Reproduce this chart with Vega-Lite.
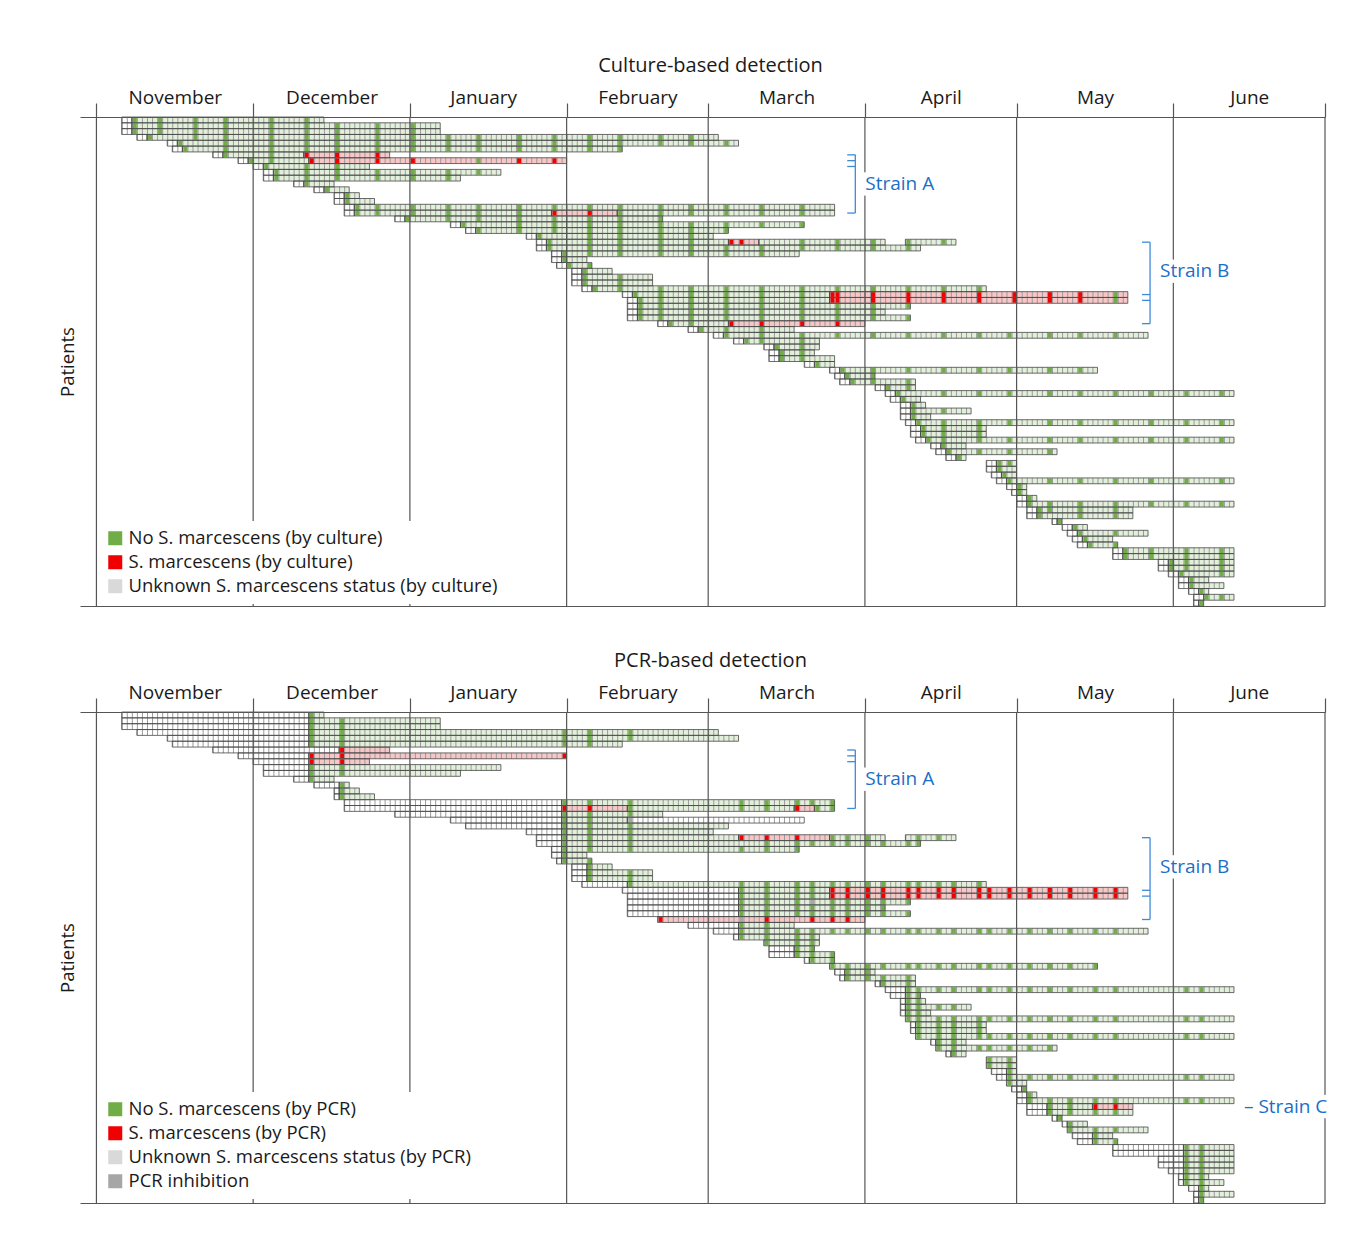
{
"$schema": "https://vega.github.io/schema/vega-lite/v6.json",
"background": "white",
"padding": {"left": 58, "top": 56, "right": 2, "bottom": 2},
"spacing": 44,
"config": {
  "font": "Open Sans",
  "view": {"stroke": null},
  "title": {"fontSize": 20, "fontWeight": "normal", "color": "#1a1a1a", "offset": 12, "dx": 8, "font": "Open Sans"},
  "legend": {"symbolType": "square", "symbolSize": 196, "symbolStrokeWidth": 0, "labelFontSize": 18.5, "labelFont": "Open Sans", "labelColor": "#1a1a1a", "rowPadding": 5, "padding": 8, "fillColor": "white", "labelLimit": 600, "labelOffset": 4, "zindex": 2}
},
"datasets": {
"months": [{"d":-1},{"d":30},{"d":61},{"d":92},{"d":120},{"d":151},{"d":181},{"d":212},{"d":242}],
"gaps": [
{"p":"C","x":151,"a":10,"b":14},{"p":"C","x":212,"a":25,"b":29},
{"p":"P","x":151,"a":10,"b":14},{"p":"P","x":212,"a":25,"b":29},{"p":"P","x":242,"a":66,"b":70}
],
"rows": [
{"p":"C","r":1,"a":[4,6],"b":[6,44],"c":["u","n"],"tn":[6,11,18,24,33,40]},
{"p":"C","r":2,"a":[4,6],"b":[6,67],"c":["u","n"],"tn":[6,11,18,24,33,40,46,54,61]},
{"p":"C","r":3,"a":[4,6],"b":[6,67],"c":["u","n"],"tn":[6,11,18,24,33,40,46,54,61]},
{"p":"C","r":4,"a":[7,9],"b":[9,122],"c":["u","n"],"tn":[9,18,24,33,40,46,54,61,68,74,82,89,96,102,110,116]},
{"p":"C","r":5,"a":[13,15],"b":[15,126],"c":["u","n"],"tn":[15,24,33,40,46,54,61,68,74,82,89,96,102,110,116,123]},
{"p":"C","r":6,"a":[14,16],"b":[16,103],"c":["u","n"],"tn":[16,24,33,40,46,54,61,68,74,82,89,96,102]},
{"p":"C","r":7,"a":[22,24,40],"b":[24,40,57],"c":["u","n","p"],"tn":[24,33],"tp":[40,46,54]},
{"p":"C","r":8,"a":[27,29,41],"b":[29,41,92],"c":["u","n","p"],"tn":[29,33,74],"tp":[41,46,54,61,82,89]},
{"p":"C","r":9,"a":[30,32],"b":[32,53],"c":["u","n"],"tn":[32,40,46]},
{"p":"C","r":10,"a":[32,34],"b":[34,79],"c":["u","n"],"tn":[34,40,46,54,61,68,74]},
{"p":"C","r":11,"a":[32,34],"b":[34,71],"c":["u","n"],"tn":[34,40,46,54,61,68]},
{"p":"C","r":12,"a":[38,40],"b":[40,46],"c":["u","n"],"tn":[40]},
{"p":"C","r":13,"a":[42,44],"b":[44,49],"c":["u","n"],"tn":[44]},
{"p":"C","r":14,"a":[46,48],"b":[48,51],"c":["u","n"],"tn":[48]},
{"p":"C","r":15,"a":[46,48],"b":[48,54],"c":["u","n"],"tn":[48]},
{"p":"C","r":16,"a":[48,50],"b":[50,145],"c":["u","n"],"tn":[50,54,61,68,74,82,89,96,102,110,116,123,130,138]},
{"p":"C","r":17,"a":[48,50,89,102],"b":[50,89,102,145],"c":["u","n","p","n"],"tn":[50,54,61,68,74,82,102,110,116,123,130,138],"tp":[89,96]},
{"p":"C","r":18,"a":[58,60],"b":[60,111],"c":["u","n"],"tn":[60,68,74,82,89,96,102,110]},
{"p":"C","r":19,"a":[69,71],"b":[71,139],"c":["u","n"],"tn":[71,82,89,96,102,110,116,123,130,138]},
{"p":"C","r":20,"a":[72,74],"b":[74,124],"c":["u","n"],"tn":[74,82,89,96,102,110,116,123]},
{"p":"C","r":21,"a":[84,86],"b":[86,121],"c":["u","n"],"tn":[86,96,102,110,116]},
{"p":"C","r":22,"a":[86,88,124,130,159],"b":[88,124,130,155,169],"c":["u","n","p","n","n"],"tn":[88,96,102,110,116,138,145,152,159,166],"tp":[124,126]},
{"p":"C","r":23,"a":[86,88],"b":[88,162],"c":["u","n"],"tn":[88,96,102,110,116,123,130,138,145,152,159]},
{"p":"C","r":24,"a":[89,91],"b":[91,138],"c":["u","n"],"tn":[91,96,102,110,116,123,130]},
{"p":"C","r":25,"a":[89,91],"b":[91,96],"c":["u","n"],"tn":[91]},
{"p":"C","r":26,"a":[90,92],"b":[92,97],"c":["u","n"],"tn":[92,96]},
{"p":"C","r":27,"a":[93,95],"b":[95,101],"c":["u","n"],"tn":[95]},
{"p":"C","r":28,"a":[93,95],"b":[95,109],"c":["u","n"],"tn":[95,102]},
{"p":"C","r":29,"a":[93,95],"b":[95,109],"c":["u","n"],"tn":[95,102]},
{"p":"C","r":30,"a":[95,97],"b":[97,175],"c":["u","n"],"tn":[97,102,110,116,123,130,138,145,152,159,166,173]},
{"p":"C","r":31,"a":[103,105,144],"b":[105,144,203],"c":["u","n","p"],"tn":[105,110,116,123,130,138,200],"tp":[144,145,152,159,166,173,180,187,193]},
{"p":"C","r":32,"a":[104,106,144],"b":[106,144,203],"c":["u","n","p"],"tn":[106,110,116,123,130,138,200],"tp":[144,145,152,159,166,173,180,187,193]},
{"p":"C","r":33,"a":[104,106],"b":[106,160],"c":["u","n"],"tn":[106,110,116,123,130,138,145,152,159]},
{"p":"C","r":34,"a":[104,106],"b":[106,155],"c":["u","n"],"tn":[106,110,116,123,130,138,145,152]},
{"p":"C","r":35,"a":[104,106],"b":[106,160],"c":["u","n"],"tn":[106,110,116,123,130,138,145,152,159]},
{"p":"C","r":36,"a":[110,112,124],"b":[112,124,151],"c":["u","n","p"],"tn":[112,116],"tp":[124,130,138,145]},
{"p":"C","r":37,"a":[116,118],"b":[118,137],"c":["u","n"],"tn":[118,123,130]},
{"p":"C","r":38,"a":[121,123],"b":[123,207],"c":["u","n"],"tn":[123,130,138,145,152,159,166,173,179,187,193,200]},
{"p":"C","r":39,"a":[125,127],"b":[127,142],"c":["u","n"],"tn":[127,130,138]},
{"p":"C","r":40,"a":[131,133],"b":[133,142],"c":["u","n"],"tn":[133,138]},
{"p":"C","r":41,"a":[132,134],"b":[134,141],"c":["u","n"],"tn":[134,138]},
{"p":"C","r":42,"a":[132,134],"b":[134,145],"c":["u","n"],"tn":[134,138]},
{"p":"C","r":43,"a":[139,141],"b":[141,145],"c":["u","n"],"tn":[141]},
{"p":"C","r":44,"a":[144,146],"b":[146,197],"c":["u","n"],"tn":[146,152,159,166,173,179,187,193]},
{"p":"C","r":45,"a":[145,147],"b":[147,153],"c":["u","n"],"tn":[147,152]},
{"p":"C","r":46,"a":[146,148],"b":[148,161],"c":["u","n"],"tn":[148,152,159]},
{"p":"C","r":47,"a":[153,155],"b":[155,161],"c":["u","n"],"tn":[155,159]},
{"p":"C","r":48,"a":[155,157],"b":[157,224],"c":["u","n"],"tn":[157,166,173,179,187,193,200,207,214,221]},
{"p":"C","r":49,"a":[156,158],"b":[158,162],"c":["u","n"],"tn":[158]},
{"p":"C","r":50,"a":[158,160],"b":[160,163],"c":["u","n"],"tn":[160]},
{"p":"C","r":51,"a":[158,160],"b":[160,172],"c":["u","n"],"tn":[160,166]},
{"p":"C","r":52,"a":[158,160],"b":[160,164],"c":["u","n"],"tn":[160]},
{"p":"C","r":53,"a":[159,161],"b":[161,224],"c":["u","n"],"tn":[161,166,173,179,187,193,200,207,214,221]},
{"p":"C","r":54,"a":[160,162],"b":[162,175],"c":["u","n"],"tn":[162,166,173]},
{"p":"C","r":55,"a":[160,162],"b":[162,175],"c":["u","n"],"tn":[162,166,173]},
{"p":"C","r":56,"a":[161,163],"b":[163,224],"c":["u","n"],"tn":[163,166,173,179,187,193,200,207,214,221]},
{"p":"C","r":57,"a":[164,166],"b":[166,171],"c":["u","n"],"tn":[166]},
{"p":"C","r":58,"a":[165,167],"b":[167,189],"c":["u","n"],"tn":[167,173,179,187]},
{"p":"C","r":59,"a":[167,169],"b":[169,171],"c":["u","n"],"tn":[169]},
{"p":"C","r":60,"a":[175,177],"b":[177,181],"c":["u","n"],"tn":[177,179]},
{"p":"C","r":61,"a":[175,177],"b":[177,181],"c":["u","n"],"tn":[177]},
{"p":"C","r":62,"a":[176,178],"b":[178,181],"c":["u","n"],"tn":[178]},
{"p":"C","r":63,"a":[177,179],"b":[179,224],"c":["u","n"],"tn":[179,187,193,200,207,214,221]},
{"p":"C","r":64,"a":[179,181],"b":[181,183],"c":["u","n"],"tn":[181]},
{"p":"C","r":65,"a":[180,181],"b":[181,183],"c":["u","n"],"tn":[181]},
{"p":"C","r":66,"a":[181,183],"b":[183,185],"c":["u","n"],"tn":[183]},
{"p":"C","r":67,"a":[181,183],"b":[183,224],"c":["u","n"],"tn":[183,187,193,200,207,214,221]},
{"p":"C","r":68,"a":[183,185],"b":[185,204],"c":["u","n"],"tn":[185,187,193,200]},
{"p":"C","r":69,"a":[183,185],"b":[185,204],"c":["u","n"],"tn":[185,193,200]},
{"p":"C","r":70,"a":[188,189],"b":[189,190],"c":["u","n"],"tn":[189]},
{"p":"C","r":71,"a":[190,192],"b":[192,195],"c":["u","n"],"tn":[192]},
{"p":"C","r":72,"a":[191,193],"b":[193,207],"c":["u","n"],"tn":[193,200]},
{"p":"C","r":73,"a":[192,194],"b":[194,200],"c":["u","n"],"tn":[194]},
{"p":"C","r":74,"a":[193,195],"b":[195,201],"c":["u","n"],"tn":[195,200]},
{"p":"C","r":75,"a":[200,202],"b":[202,224],"c":["u","n"],"tn":[202,207,214,221]},
{"p":"C","r":76,"a":[200,202],"b":[202,224],"c":["u","n"],"tn":[202,207,214,221]},
{"p":"C","r":77,"a":[209,211],"b":[211,224],"c":["u","n"],"tn":[211,214,221]},
{"p":"C","r":78,"a":[209,211],"b":[211,224],"c":["u","n"],"tn":[211,214,221]},
{"p":"C","r":79,"a":[211,213],"b":[213,224],"c":["u","n"],"tn":[213,221]},
{"p":"C","r":80,"a":[213,215],"b":[215,219],"c":["u","n"],"tn":[215]},
{"p":"C","r":81,"a":[213,215],"b":[215,222],"c":["u","n"],"tn":[215]},
{"p":"C","r":82,"a":[215,217],"b":[217,219],"c":["u","n"],"tn":[217]},
{"p":"C","r":83,"a":[216,218],"b":[218,224],"c":["u","n"],"tn":[218,221]},
{"p":"C","r":84,"a":[216,217],"b":[217,218],"c":["u","n"],"tn":[217]},
{"p":"P","r":1,"a":[4,41],"b":[41,44],"c":["u","n"],"tn":[41]},
{"p":"P","r":2,"a":[4,41],"b":[41,67],"c":["u","n"],"tn":[41,47]},
{"p":"P","r":3,"a":[4,41],"b":[41,67],"c":["u","n"],"tn":[41,47]},
{"p":"P","r":4,"a":[7,41],"b":[41,122],"c":["u","n"],"tn":[41,47,91,96,104]},
{"p":"P","r":5,"a":[13,41],"b":[41,126],"c":["u","n"],"tn":[41,47,91,96,104]},
{"p":"P","r":6,"a":[14,41],"b":[41,103],"c":["u","n"],"tn":[41,47,91,96]},
{"p":"P","r":7,"a":[22,47],"b":[47,57],"c":["u","p"],"tp":[47]},
{"p":"P","r":8,"a":[27,41],"b":[41,92],"c":["u","p"],"tp":[41,47,91]},
{"p":"P","r":9,"a":[30,41],"b":[41,53],"c":["u","p"],"tp":[41,47]},
{"p":"P","r":10,"a":[32,41],"b":[41,79],"c":["u","n"],"tn":[41,47]},
{"p":"P","r":11,"a":[32,41],"b":[41,71],"c":["u","n"],"tn":[41,47]},
{"p":"P","r":12,"a":[38,41],"b":[41,46],"c":["u","n"],"tn":[41]},
{"p":"P","r":13,"a":[42,47],"b":[47,49],"c":["u","n"],"tn":[47]},
{"p":"P","r":14,"a":[46,47],"b":[47,51],"c":["u","n"],"tn":[47]},
{"p":"P","r":15,"a":[46,47],"b":[47,54],"c":["u","n"],"tn":[47]},
{"p":"P","r":16,"a":[48,91],"b":[91,145],"c":["u","n"],"tn":[91,96,104,126,131,137,140,144]},
{"p":"P","r":17,"a":[48,91,104,137,141],"b":[91,104,137,141,145],"c":["u","p","n","p","n"],"tn":[104,126,131,141,144],"tp":[91,96,137]},
{"p":"P","r":18,"a":[58,91],"b":[91,111],"c":["u","n"],"tn":[91,96,104]},
{"p":"P","r":19,"a":[69,91,104],"b":[91,104,139],"c":["u","n","u"],"tn":[91,96],"ti":[104]},
{"p":"P","r":20,"a":[72,91],"b":[91,124],"c":["u","n"],"tn":[91,96,104]},
{"p":"P","r":21,"a":[84,91],"b":[91,121],"c":["u","n"],"tn":[91,96,104]},
{"p":"P","r":22,"a":[86,91,126,144,159],"b":[91,126,144,155,169],"c":["u","n","p","n","n"],"tn":[91,96,104,144,147,151,161,165],"tp":[126,131,137]},
{"p":"P","r":23,"a":[86,91],"b":[91,162],"c":["u","n"],"tn":[91,96,104,131,137,140,144,147,151,154,159,161]},
{"p":"P","r":24,"a":[89,91],"b":[91,138],"c":["u","n"],"tn":[91,96,104,126,131,137]},
{"p":"P","r":25,"a":[89,91],"b":[91,96],"c":["u","n"],"tn":[91]},
{"p":"P","r":26,"a":[90,91],"b":[91,97],"c":["u","n"],"tn":[91,96]},
{"p":"P","r":27,"a":[93,96],"b":[96,101],"c":["u","n"],"tn":[96]},
{"p":"P","r":28,"a":[93,96],"b":[96,109],"c":["u","n"],"tn":[96,104]},
{"p":"P","r":29,"a":[93,96],"b":[96,109],"c":["u","n"],"tn":[96,104]},
{"p":"P","r":30,"a":[95,104],"b":[104,175],"c":["u","n"],"tn":[104,126,131,137,140,144,147,151,154,159,161,165,168,173]},
{"p":"P","r":31,"a":[103,126,144],"b":[126,144,203],"c":["u","n","p"],"tn":[126,131,137,140],"tp":[144,147,151,154,159,161,165,168,173,175,179,183,187,191,196,200]},
{"p":"P","r":32,"a":[104,126,144],"b":[126,144,203],"c":["u","n","p"],"tn":[126,131,137,140],"tp":[144,147,151,154,159,161,165,168,173,175,179,183,187,191,196,200]},
{"p":"P","r":33,"a":[104,126],"b":[126,160],"c":["u","n"],"tn":[126,131,137,144,147,151,154,159],"ti":[140]},
{"p":"P","r":34,"a":[104,126],"b":[126,155],"c":["u","n"],"tn":[126,131,137,140,144,147,151,154]},
{"p":"P","r":35,"a":[104,126],"b":[126,160],"c":["u","n"],"tn":[126,131,137,140,144,147,151,154,159]},
{"p":"P","r":36,"a":[110],"b":[151],"c":["p"],"tp":[110,131,140,144,147],"ti":[126]},
{"p":"P","r":37,"a":[116,126],"b":[126,137],"c":["u","n"],"tn":[126,131]},
{"p":"P","r":38,"a":[121,126],"b":[126,207],"c":["u","n"],"tn":[126,131,137,140,144,147,151,154,159,161,165,168,173,175,179,183,187,191,196,200]},
{"p":"P","r":39,"a":[125,126],"b":[126,142],"c":["u","n"],"tn":[126,131,137,140]},
{"p":"P","r":40,"a":[131],"b":[142],"c":["n"],"tn":[131,137,140]},
{"p":"P","r":41,"a":[132,137],"b":[137,141],"c":["u","n"],"tn":[137,140]},
{"p":"P","r":42,"a":[132,137],"b":[137,145],"c":["u","n"],"tn":[137,140,144]},
{"p":"P","r":43,"a":[139,140],"b":[140,145],"c":["u","n"],"tn":[140,144]},
{"p":"P","r":44,"a":[144],"b":[197],"c":["n"],"tn":[144,147,151,154,159,161,165,168,173,175,179,183,187,191,196]},
{"p":"P","r":45,"a":[145,147],"b":[147,153],"c":["u","n"],"tn":[147,151]},
{"p":"P","r":46,"a":[146,147],"b":[147,161],"c":["u","n"],"tn":[147,151,154,159]},
{"p":"P","r":47,"a":[153,154],"b":[154,161],"c":["u","n"],"tn":[154,159]},
{"p":"P","r":48,"a":[155,159],"b":[159,224],"c":["u","n"],"tn":[159,161,165,168,173,175,179,183,187,191,196,200,214,217]},
{"p":"P","r":49,"a":[156,159],"b":[159,162],"c":["u","n"],"tn":[159,161]},
{"p":"P","r":50,"a":[158,159],"b":[159,163],"c":["u","n"],"tn":[159,161]},
{"p":"P","r":51,"a":[158,159],"b":[159,172],"c":["u","n"],"tn":[159,161,165,168]},
{"p":"P","r":52,"a":[158,159],"b":[159,164],"c":["u","n"],"tn":[159,161]},
{"p":"P","r":53,"a":[159],"b":[224],"c":["n"],"tn":[159,161,165,168,173,175,179,183,187,191,196,200,214,217]},
{"p":"P","r":54,"a":[160,161],"b":[161,175],"c":["u","n"],"tn":[161,165,168,173]},
{"p":"P","r":55,"a":[160,161],"b":[161,175],"c":["u","n"],"tn":[161,165,168,173]},
{"p":"P","r":56,"a":[161],"b":[224],"c":["n"],"tn":[161,165,168,173,175,179,183,187,191,196,200,214,217]},
{"p":"P","r":57,"a":[164,165],"b":[165,171],"c":["u","n"],"tn":[165,168]},
{"p":"P","r":58,"a":[165],"b":[189],"c":["n"],"tn":[165,168,173,175,179,183,187]},
{"p":"P","r":59,"a":[167,168],"b":[168,171],"c":["u","n"],"tn":[168]},
{"p":"P","r":60,"a":[175],"b":[181],"c":["n"],"tn":[175,179]},
{"p":"P","r":61,"a":[175],"b":[181],"c":["n"],"tn":[175,179]},
{"p":"P","r":62,"a":[176,179],"b":[179,181],"c":["u","n"],"tn":[179]},
{"p":"P","r":63,"a":[177,179],"b":[179,224],"c":["u","n"],"tn":[179,183,187,191,196,200,214,217]},
{"p":"P","r":64,"a":[179],"b":[183],"c":["n"],"tn":[179]},
{"p":"P","r":65,"a":[180,182],"b":[182,183],"c":["u","n"],"tn":[182]},
{"p":"P","r":66,"a":[181,183],"b":[183,185],"c":["u","n"],"tn":[183]},
{"p":"P","r":67,"a":[181,183],"b":[183,224],"c":["u","n"],"tn":[183,187,191,196,200,214,217]},
{"p":"P","r":68,"a":[183,187,196],"b":[187,196,204],"c":["u","n","p"],"tn":[187,191],"tp":[196,200]},
{"p":"P","r":69,"a":[183,187],"b":[187,204],"c":["u","n"],"tn":[187,191,196,200]},
{"p":"P","r":70,"a":[188,189],"b":[189,190],"c":["u","n"],"tn":[189]},
{"p":"P","r":71,"a":[190,191],"b":[191,195],"c":["u","n"],"tn":[191]},
{"p":"P","r":72,"a":[191],"b":[207],"c":["n"],"tn":[191,196,200]},
{"p":"P","r":73,"a":[192,196],"b":[196,200],"c":["u","n"],"tn":[196]},
{"p":"P","r":74,"a":[193,196],"b":[196,201],"c":["u","n"],"tn":[196,200]},
{"p":"P","r":75,"a":[200,214],"b":[214,224],"c":["u","n"],"tn":[214,217]},
{"p":"P","r":76,"a":[200,214],"b":[214,224],"c":["u","n"],"tn":[214,217]},
{"p":"P","r":77,"a":[209,214],"b":[214,224],"c":["u","n"],"tn":[214,217]},
{"p":"P","r":78,"a":[209,214],"b":[214,224],"c":["u","n"],"tn":[214,217]},
{"p":"P","r":79,"a":[211,214],"b":[214,224],"c":["u","n"],"tn":[214,217]},
{"p":"P","r":80,"a":[213,214],"b":[214,219],"c":["u","n"],"tn":[214,217]},
{"p":"P","r":81,"a":[213,214],"b":[214,222],"c":["u","n"],"tn":[214,217]},
{"p":"P","r":82,"a":[215,217],"b":[217,219],"c":["u","n"],"tn":[217]},
{"p":"P","r":83,"a":[216,217],"b":[217,224],"c":["u","n"],"tn":[217]},
{"p":"P","r":84,"a":[216,217],"b":[217,218],"c":["u","n"],"tn":[217]}
],
"strains": [
{"p":"C","st":"Strain A","x":149.1,"a":7,"b":17,"m":12},
{"p":"C","st":"Strain B","x":207.4,"a":22,"b":36,"m":27},
{"p":"P","st":"Strain A","x":149.1,"a":7,"b":17,"m":12},
{"p":"P","st":"Strain B","x":207.4,"a":22,"b":36,"m":27},
{"p":"P","st":"– Strain C","x":224.0,"m":68}
],
"sticks": [
{"p":"C","x0":147.5,"x":149.1,"r":7},{"p":"C","x0":147.5,"x":149.1,"r":8},{"p":"C","x0":147.5,"x":149.1,"r":9},{"p":"C","x0":147.5,"x":149.1,"r":17},
{"p":"C","x0":205.8,"x":207.4,"r":22},{"p":"C","x0":205.8,"x":207.4,"r":31},{"p":"C","x0":205.8,"x":207.4,"r":32},{"p":"C","x0":205.8,"x":207.4,"r":36},
{"p":"P","x0":147.5,"x":149.1,"r":7},{"p":"P","x0":147.5,"x":149.1,"r":8},{"p":"P","x0":147.5,"x":149.1,"r":9},{"p":"P","x0":147.5,"x":149.1,"r":17},
{"p":"P","x0":205.8,"x":207.4,"r":22},{"p":"P","x0":205.8,"x":207.4,"r":31},{"p":"P","x0":205.8,"x":207.4,"r":32},{"p":"P","x0":205.8,"x":207.4,"r":36}
]
},
"vconcat": [
{
  "title": "Culture-based detection",
  "width": 1245, "height": 489,
  "data": {"name": "rows"},
  "transform": [{"filter": "datum.p == 'C'"}],
  "layer": [
    {
      "transform": [{"flatten": ["a", "b", "c"]}],
      "mark": {"type": "rect"},
      "encoding": {
        "y": {"field": "r", "type": "ordinal", "scale": {"paddingInner": 0, "paddingOuter": 0},
          "axis": {"title": "Patients", "labels": false, "ticks": false, "domain": false, "grid": false, "titleFontSize": 18.5, "titleFontWeight": "normal", "titleColor": "#1a1a1a", "titlePadding": 3, "titleFont": "Open Sans"}},
        "x": {"field": "a", "type": "quantitative", "scale": {"domain": [-4.25, 242], "nice": false, "zero": false},
          "axis": {"orient": "top", "title": null,
            "values": [-1,14.5,30,45.5,61,75.5,92,106,120,135.5,151,166,181,196.5,212,227,242],
            "labelExpr": "datum.value == 14.5 ? 'November' : datum.value == 45.5 ? 'December' : datum.value == 75.5 ? 'January' : datum.value == 106 ? 'February' : datum.value == 135.5 ? 'March' : datum.value == 166 ? 'April' : datum.value == 196.5 ? 'May' : datum.value == 227 ? 'June' : ''",
            "labelFontSize": 19, "labelFont": "Open Sans", "labelColor": "#1a1a1a", "labelPadding": 0, "labelBaseline": "alphabetic", "labelFlush": false, "labelOverlap": false, "labelBound": false, "labelAngle": 0,
            "tickSize": 14, "tickColor": "#555555", "tickWidth": 1.2,
            "tickOpacity": {"condition": {"test": "indexof([14.5,45.5,75.5,106,135.5,166,196.5,227], datum.value) >= 0", "value": 0}, "value": 1},
            "grid": false,
            "domainColor": "#555555", "domainWidth": 1.2, "zindex": 1}},
        "x2": {"field": "b"},
        "fill": {"field": "c", "type": "nominal", "scale": {"domain": ["u", "n", "p"], "range": ["#ffffff", "#e2efda", "#f8c6c6"]}, "legend": null}
      }
    },
    {
      "transform": [{"flatten": ["a", "b"]}],
      "mark": {"type": "rule", "strokeDash": [1, 4.056], "strokeWidth": 5.8, "color": "#9c9c9c"},
      "encoding": {"y": {"field": "r", "type": "ordinal"}, "x": {"field": "a", "type": "quantitative", "axis": null}, "x2": {"field": "b"}}
    },
    {
      "transform": [{"filter": "isArray(datum.tn)"}, {"flatten": ["tn"]}],
      "mark": {"type": "tick", "orient": "vertical", "thickness": 4, "size": 4.8, "xOffset": 3, "opacity": 1},
      "encoding": {
        "y": {"field": "r", "type": "ordinal"},
        "x": {"field": "tn", "type": "quantitative", "axis": null},
        "color": {"datum": "No S. marcescens (by culture)", "type": "nominal",
          "scale": {"domain": ["No S. marcescens (by culture)", "S. marcescens (by culture)", "Unknown S. marcescens status (by culture)"], "range": ["#70ad47", "#f00000", "#d9d9d9"]},
          "legend": {"title": null, "orient": "none", "legendX": 18, "legendY": 404}}
      }
    },
    {
      "transform": [{"filter": "isArray(datum.tp)"}, {"flatten": ["tp"]}],
      "mark": {"type": "tick", "orient": "vertical", "thickness": 4, "size": 4.8, "xOffset": 3, "opacity": 1},
      "encoding": {
        "y": {"field": "r", "type": "ordinal"},
        "x": {"field": "tp", "type": "quantitative", "axis": null},
        "color": {"datum": "S. marcescens (by culture)", "type": "nominal"}
      }
    },
    {
      "transform": [{"flatten": ["a", "b"]}],
      "mark": {"type": "rect", "fillOpacity": 0, "stroke": "#474747", "strokeWidth": 0.8},
      "encoding": {
        "y": {"field": "r", "type": "ordinal"},
        "x": {"field": "a", "type": "quantitative", "axis": {"orient": "bottom", "title": null, "labels": false, "ticks": false, "grid": false, "domain": true, "domainColor": "#555555", "domainWidth": 1.2}},
        "x2": {"field": "b"}
      }
    },
    {
      "data": {"name": "months"},
      "mark": {"type": "rule", "color": "#555555", "strokeWidth": 1.2},
      "encoding": {"x": {"field": "d", "type": "quantitative", "axis": null}}
    },
    {
      "data": {"name": "gaps"},
      "transform": [{"filter": "datum.p == 'C'"}],
      "mark": {"type": "rule", "color": "white", "strokeWidth": 4},
      "encoding": {
        "x": {"field": "x", "type": "quantitative", "axis": null},
        "y": {"field": "a", "type": "ordinal"},
        "y2": {"field": "b"}
      }
    },
    {
      "data": {"name": "strains"},
      "transform": [{"filter": "datum.p == 'C' && isValid(datum.a)"}],
      "mark": {"type": "rule", "color": "#3f8ad8", "strokeWidth": 1.3},
      "encoding": {
        "x": {"field": "x", "type": "quantitative", "axis": null},
        "y": {"field": "a", "type": "ordinal"},
        "y2": {"field": "b"}
      }
    },
    {
      "data": {"name": "sticks"},
      "transform": [{"filter": "datum.p == 'C'"}],
      "mark": {"type": "rule", "color": "#3f8ad8", "strokeWidth": 1.3},
      "encoding": {
        "x": {"field": "x0", "type": "quantitative", "axis": null},
        "x2": {"field": "x"},
        "y": {"field": "r", "type": "ordinal"}
      }
    },
    {
      "data": {"name": "strains"},
      "transform": [{"filter": "datum.p == 'C'"}],
      "mark": {"type": "text", "align": "left", "baseline": "middle", "dx": 10, "fontSize": 19, "font": "Open Sans", "color": "#1a6fc8"},
      "encoding": {
        "x": {"field": "x", "type": "quantitative", "axis": null},
        "y": {"field": "m", "type": "ordinal"},
        "text": {"field": "st"}
      }
    }
  ],
  "resolve": {"axis": {"x": "independent"}}
},
{
  "title": "PCR-based detection",
  "width": 1245, "height": 491,
  "data": {"name": "rows"},
  "transform": [{"filter": "datum.p == 'P'"}],
  "layer": [
    {
      "transform": [{"flatten": ["a", "b", "c"]}],
      "mark": {"type": "rect"},
      "encoding": {
        "y": {"field": "r", "type": "ordinal", "scale": {"paddingInner": 0, "paddingOuter": 0},
          "axis": {"title": "Patients", "labels": false, "ticks": false, "domain": false, "grid": false, "titleFontSize": 18.5, "titleFontWeight": "normal", "titleColor": "#1a1a1a", "titlePadding": 3, "titleFont": "Open Sans"}},
        "x": {"field": "a", "type": "quantitative", "scale": {"domain": [-4.25, 242], "nice": false, "zero": false},
          "axis": {"orient": "top", "title": null,
            "values": [-1,14.5,30,45.5,61,75.5,92,106,120,135.5,151,166,181,196.5,212,227,242],
            "labelExpr": "datum.value == 14.5 ? 'November' : datum.value == 45.5 ? 'December' : datum.value == 75.5 ? 'January' : datum.value == 106 ? 'February' : datum.value == 135.5 ? 'March' : datum.value == 166 ? 'April' : datum.value == 196.5 ? 'May' : datum.value == 227 ? 'June' : ''",
            "labelFontSize": 19, "labelFont": "Open Sans", "labelColor": "#1a1a1a", "labelPadding": 0, "labelBaseline": "alphabetic", "labelFlush": false, "labelOverlap": false, "labelBound": false, "labelAngle": 0,
            "tickSize": 14, "tickColor": "#555555", "tickWidth": 1.2,
            "tickOpacity": {"condition": {"test": "indexof([14.5,45.5,75.5,106,135.5,166,196.5,227], datum.value) >= 0", "value": 0}, "value": 1},
            "grid": false,
            "domainColor": "#555555", "domainWidth": 1.2, "zindex": 1}},
        "x2": {"field": "b"},
        "fill": {"field": "c", "type": "nominal", "scale": {"domain": ["u", "n", "p"], "range": ["#ffffff", "#e2efda", "#f8c6c6"]}, "legend": null}
      }
    },
    {
      "transform": [{"flatten": ["a", "b"]}],
      "mark": {"type": "rule", "strokeDash": [1, 4.056], "strokeWidth": 5.8, "color": "#9c9c9c"},
      "encoding": {"y": {"field": "r", "type": "ordinal"}, "x": {"field": "a", "type": "quantitative", "axis": null}, "x2": {"field": "b"}}
    },
    {
      "transform": [{"filter": "isArray(datum.tn)"}, {"flatten": ["tn"]}],
      "mark": {"type": "tick", "orient": "vertical", "thickness": 4, "size": 4.8, "xOffset": 3, "opacity": 1},
      "encoding": {
        "y": {"field": "r", "type": "ordinal"},
        "x": {"field": "tn", "type": "quantitative", "axis": null},
        "color": {"datum": "No S. marcescens (by PCR)", "type": "nominal",
          "scale": {"domain": ["No S. marcescens (by PCR)", "S. marcescens (by PCR)", "Unknown S. marcescens status (by PCR)", "PCR inhibition"], "range": ["#70ad47", "#f00000", "#d9d9d9", "#a6a6a6"]},
          "legend": {"title": null, "orient": "none", "legendX": 18, "legendY": 380}}
      }
    },
    {
      "transform": [{"filter": "isArray(datum.tp)"}, {"flatten": ["tp"]}],
      "mark": {"type": "tick", "orient": "vertical", "thickness": 4, "size": 4.8, "xOffset": 3, "opacity": 1},
      "encoding": {
        "y": {"field": "r", "type": "ordinal"},
        "x": {"field": "tp", "type": "quantitative", "axis": null},
        "color": {"datum": "S. marcescens (by PCR)", "type": "nominal"}
      }
    },
    {
      "transform": [{"filter": "isArray(datum.ti)"}, {"flatten": ["ti"]}],
      "mark": {"type": "tick", "orient": "vertical", "thickness": 4, "size": 4.8, "xOffset": 3, "opacity": 1},
      "encoding": {
        "y": {"field": "r", "type": "ordinal"},
        "x": {"field": "ti", "type": "quantitative", "axis": null},
        "color": {"datum": "PCR inhibition", "type": "nominal"}
      }
    },
    {
      "transform": [{"flatten": ["a", "b"]}],
      "mark": {"type": "rect", "fillOpacity": 0, "stroke": "#474747", "strokeWidth": 0.8},
      "encoding": {
        "y": {"field": "r", "type": "ordinal"},
        "x": {"field": "a", "type": "quantitative", "axis": {"orient": "bottom", "title": null, "labels": false, "ticks": false, "grid": false, "domain": true, "domainColor": "#555555", "domainWidth": 1.2}},
        "x2": {"field": "b"}
      }
    },
    {
      "data": {"name": "months"},
      "mark": {"type": "rule", "color": "#555555", "strokeWidth": 1.2},
      "encoding": {"x": {"field": "d", "type": "quantitative", "axis": null}}
    },
    {
      "data": {"name": "gaps"},
      "transform": [{"filter": "datum.p == 'P'"}],
      "mark": {"type": "rule", "color": "white", "strokeWidth": 4},
      "encoding": {
        "x": {"field": "x", "type": "quantitative", "axis": null},
        "y": {"field": "a", "type": "ordinal"},
        "y2": {"field": "b"}
      }
    },
    {
      "data": {"name": "strains"},
      "transform": [{"filter": "datum.p == 'P' && isValid(datum.a)"}],
      "mark": {"type": "rule", "color": "#3f8ad8", "strokeWidth": 1.3},
      "encoding": {
        "x": {"field": "x", "type": "quantitative", "axis": null},
        "y": {"field": "a", "type": "ordinal"},
        "y2": {"field": "b"}
      }
    },
    {
      "data": {"name": "sticks"},
      "transform": [{"filter": "datum.p == 'P'"}],
      "mark": {"type": "rule", "color": "#3f8ad8", "strokeWidth": 1.3},
      "encoding": {
        "x": {"field": "x0", "type": "quantitative", "axis": null},
        "x2": {"field": "x"},
        "y": {"field": "r", "type": "ordinal"}
      }
    },
    {
      "data": {"name": "strains"},
      "transform": [{"filter": "datum.p == 'P'"}],
      "mark": {"type": "text", "align": "left", "baseline": "middle", "dx": 10, "fontSize": 19, "font": "Open Sans", "color": "#1a6fc8"},
      "encoding": {
        "x": {"field": "x", "type": "quantitative", "axis": null},
        "y": {"field": "m", "type": "ordinal"},
        "text": {"field": "st"}
      }
    }
  ],
  "resolve": {"axis": {"x": "independent"}}
}
],
"resolve": {"scale": {"color": "independent", "x": "independent", "y": "independent"}, "legend": {"color": "independent"}}
}
